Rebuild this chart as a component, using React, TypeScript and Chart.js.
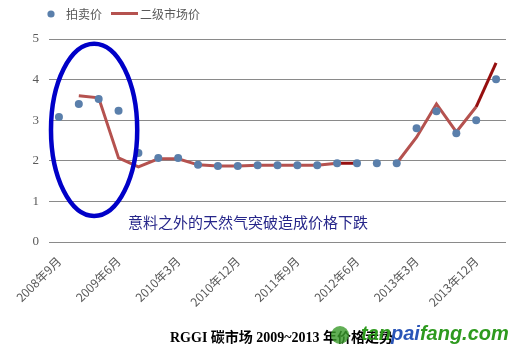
import React, { useEffect, useRef } from 'react';
import { Chart, registerables } from 'chart.js';

Chart.register(...registerables);

const categories = [
  '2008年9月', '2008年12月', '2009年3月', '2009年6月', '2009年9月', '2009年12月',
  '2010年3月', '2010年6月', '2010年9月', '2010年12月', '2011年3月', '2011年6月',
  '2011年9月', '2011年12月', '2012年3月', '2012年6月', '2012年9月', '2012年12月',
  '2013年3月', '2013年6月', '2013年9月', '2013年12月', '2014年3月',
];

const auctionPrice = [
  3.08, 3.40, 3.52, 3.23, 2.19, 2.07, 2.07, 1.90, 1.87, 1.87, 1.89, 1.89,
  1.89, 1.89, 1.94, 1.94, 1.94, 1.94, 2.80, 3.22, 2.68, 3.00, 4.01,
];

const secondaryPrice: (number | null)[] = [
  null, 3.60, 3.55, 2.07, 1.85, 2.05, 2.05, 1.90, 1.87, 1.87, 1.89, 1.89,
  1.89, 1.89, 1.94, 1.94, null, 1.94, 2.58, 3.40, 2.71, 3.33, 4.41,
];

const darkSegmentEnds = [15, 22];

const legendLabels = ['拍卖价', '二级市场价'];
const annotationText = '意料之外的天然气突破造成价格下跌';
const titleText = 'RGGI 碳市场 2009~2013 年价格走势';

const DOT = '#5a7fab';
const LINE = '#b5524f';
const LINE_DARK = '#960f0f';
const GRAY = '#595959';

const overlayPlugin = {
  id: 'overlay',
  afterDraw(chart: any) {
    const ctx = chart.ctx as CanvasRenderingContext2D;
    const xs = chart.scales.x;
    const ys = chart.scales.y;
    ctx.save();

    // legend
    ctx.fillStyle = DOT;
    ctx.beginPath();
    ctx.arc(51, 14, 3.6, 0, Math.PI * 2);
    ctx.fill();
    ctx.font = '12px "Noto Sans CJK SC", sans-serif';
    ctx.fillStyle = GRAY;
    ctx.textBaseline = 'middle';
    ctx.textAlign = 'left';
    ctx.fillText(legendLabels[0], 66, 14);
    ctx.strokeStyle = LINE;
    ctx.lineWidth = 3;
    ctx.beginPath();
    ctx.moveTo(111, 13.5);
    ctx.lineTo(138, 13.5);
    ctx.stroke();
    ctx.fillText(legendLabels[1], 140, 14);

    // ellipse
    const unitX = xs.getPixelForValue(1) - xs.getPixelForValue(0);
    const unitY = ys.getPixelForValue(0) - ys.getPixelForValue(1);
    const cx = xs.getPixelForValue(0) + unitX * 1.77;
    const cy = ys.getPixelForValue(2.76);
    ctx.strokeStyle = '#0000c8';
    ctx.lineWidth = 4.5;
    ctx.beginPath();
    ctx.ellipse(cx, cy, unitX * 2.17, unitY * 2.12, 0, 0, Math.PI * 2);
    ctx.stroke();

    // annotation
    ctx.font = '15px "Noto Sans CJK SC", sans-serif';
    ctx.fillStyle = '#26268a';
    ctx.textAlign = 'left';
    ctx.fillText(annotationText, xs.getPixelForValue(0) + unitX * 3.47, ys.getPixelForValue(0.49));

    // title
    ctx.font = 'bold 14px "Liberation Serif", "Noto Sans CJK SC", serif';
    ctx.fillStyle = '#000000';
    ctx.fillText(titleText, 170, 338);

    // watermark
    ctx.fillStyle = '#3a9a2a';
    ctx.globalAlpha = 0.8;
    ctx.beginPath();
    ctx.arc(340, 335, 9, 0, Math.PI * 2);
    ctx.fill();
    ctx.globalAlpha = 1;
    ctx.font = 'italic bold 20px "Liberation Sans", Arial, sans-serif';
    let x = 361;
    const parts: [string, string][] = [['tan', '#2e9a1e'], ['pai', '#2a55b8'], ['fang.com', '#2e9a1e']];
    for (const [t, c] of parts) {
      ctx.fillStyle = c;
      ctx.fillText(t, x, 334);
      x += ctx.measureText(t).width;
    }
    ctx.restore();
  },
};

export default function App() {
  const ref = useRef<HTMLCanvasElement>(null);
  useEffect(() => {
    if (!ref.current) return;
    const chart = new Chart(ref.current, {
      type: 'line',
      data: {
        labels: categories,
        datasets: [
          {
            label: legendLabels[0],
            data: auctionPrice,
            showLine: false,
            pointRadius: 4,
            pointHoverRadius: 4,
            pointBackgroundColor: DOT,
            pointBorderColor: DOT,
            pointBorderWidth: 0,
            backgroundColor: DOT,
            borderColor: DOT,
          },
          {
            label: legendLabels[1],
            data: secondaryPrice,
            borderColor: LINE,
            borderWidth: 3,
            pointRadius: 0,
            tension: 0,
            spanGaps: false,
            segment: {
              borderColor: (c: any) => (darkSegmentEnds.includes(c.p1DataIndex) ? LINE_DARK : LINE),
            },
          },
        ],
      },
      options: {
        animation: false,
        responsive: true,
        maintainAspectRatio: false,
        layout: { padding: { top: 39, left: 0, right: 25, bottom: 0 } },
        plugins: { legend: { display: false }, tooltip: { enabled: false }, title: { display: false } },
        scales: {
          x: {
            offset: true,
            grid: { display: false },
            border: { display: false },
            afterFit: (s: any) => { s.height = 114; },
            ticks: {
              autoSkip: false,
              maxRotation: 45,
              minRotation: 45,
              padding: 4,
              color: GRAY,
              font: { family: '"Noto Sans CJK SC", sans-serif', size: 12 },
              callback: (_v: any, i: number) => (i % 3 === 0 ? categories[i] : ''),
            },
          },
          y: {
            min: 0,
            max: 5,
            afterFit: (s: any) => { s.width = 49; },
            border: { display: false },
            grid: { color: '#8a8a8a', lineWidth: 1, drawTicks: false },
            ticks: {
              stepSize: 1,
              padding: 10,
              color: GRAY,
              font: { family: '"Liberation Serif", serif', size: 13 },
            },
          },
        },
      },
      plugins: [overlayPlugin],
    });
    return () => chart.destroy();
  }, []);
  return (
    <div style={{ position: 'fixed', left: 0, top: 0, width: 531, height: 356, background: '#fff' }}>
      <canvas ref={ref} />
    </div>
  );
}
